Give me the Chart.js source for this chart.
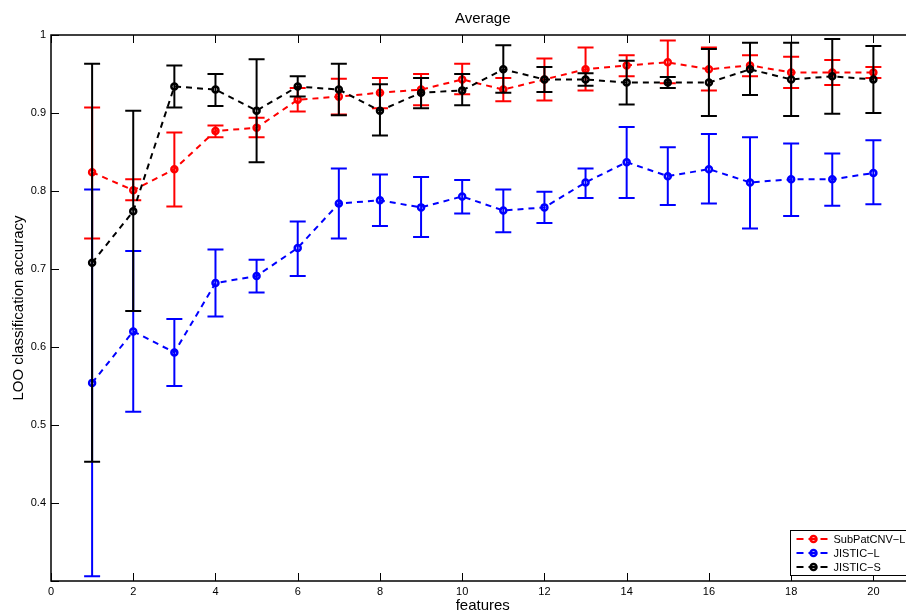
<!DOCTYPE html>
<html>
<head>
<meta charset="utf-8">
<script src="https://cdn.jsdelivr.net/npm/chart.js@4.4.1/dist/chart.umd.min.js"></script>
<style>
  html, body { margin: 0; padding: 0; background: #fff; overflow: hidden; }
  #wrap { width: 920px; height: 613px; }
</style>
</head>
<body>
<div id="wrap"><canvas id="chart"></canvas></div>
<script>
// number of features on the x axis
const features = [1, 2, 3, 4, 5, 6, 7, 8, 9, 10, 11, 12, 13, 14, 15, 16, 17, 18, 19, 20];

// SubPatCNV-L (red)
const subpatMean = [0.824, 0.801, 0.828, 0.877, 0.881, 0.917, 0.921, 0.926, 0.930, 0.943, 0.930, 0.943, 0.956, 0.961, 0.965, 0.956, 0.961, 0.952, 0.952, 0.952];
const subpatLow  = [0.739, 0.788, 0.780, 0.869, 0.869, 0.902, 0.898, 0.906, 0.910, 0.924, 0.915, 0.916, 0.929, 0.947, 0.938, 0.929, 0.947, 0.932, 0.936, 0.945];
const subpatHigh = [0.907, 0.815, 0.875, 0.884, 0.894, 0.932, 0.944, 0.945, 0.950, 0.963, 0.945, 0.970, 0.984, 0.974, 0.993, 0.984, 0.974, 0.972, 0.968, 0.959];

// JISTIC-L (blue)
const jisticLMean = [0.554, 0.620, 0.593, 0.682, 0.691, 0.727, 0.784, 0.788, 0.779, 0.793, 0.775, 0.779, 0.811, 0.837, 0.819, 0.828, 0.811, 0.815, 0.815, 0.823];
const jisticLLow  = [0.306, 0.517, 0.550, 0.639, 0.670, 0.691, 0.739, 0.755, 0.741, 0.771, 0.747, 0.759, 0.791, 0.791, 0.782, 0.784, 0.752, 0.768, 0.781, 0.783];
const jisticLHigh = [0.802, 0.723, 0.636, 0.725, 0.712, 0.761, 0.829, 0.821, 0.818, 0.814, 0.802, 0.799, 0.829, 0.882, 0.856, 0.873, 0.869, 0.861, 0.848, 0.865];

// JISTIC-S (black)
const jisticSMean = [0.708, 0.774, 0.934, 0.930, 0.903, 0.934, 0.930, 0.903, 0.926, 0.929, 0.956, 0.943, 0.943, 0.939, 0.939, 0.939, 0.956, 0.943, 0.947, 0.943];
const jisticSLow  = [0.453, 0.646, 0.907, 0.909, 0.837, 0.921, 0.897, 0.871, 0.906, 0.910, 0.926, 0.927, 0.935, 0.911, 0.932, 0.896, 0.923, 0.896, 0.899, 0.900];
const jisticSHigh = [0.963, 0.903, 0.961, 0.950, 0.969, 0.947, 0.963, 0.937, 0.945, 0.950, 0.987, 0.959, 0.951, 0.967, 0.946, 0.982, 0.990, 0.990, 0.995, 0.986];

const seriesNames = ["SubPatCNV\u2212L", "JISTIC\u2212L", "JISTIC\u2212S"];
const seriesColors = ["#ff0000", "#0000ff", "#000000"];

const FONT = "'Liberation Sans', Arial, Helvetica, sans-serif";

function makeDataset(i, mean, low, high) {
    return {
        label: seriesNames[i],
        data: features.map((f, k) => ({ x: f, y: mean[k] })),
        errLow: low,
        errHigh: high,
        borderColor: seriesColors[i],
        backgroundColor: "transparent",
        borderWidth: 2,
        borderDash: [6, 5],
        pointRadius: 3,
        pointBorderWidth: 2.5,
        pointBorderColor: seriesColors[i],
        pointBackgroundColor: "transparent",
        pointHoverRadius: 3,
        tension: 0,
        order: 3 - i, // black last = on top, like matlab
    };
}

// error bars, drawn right after each dataset
const errorBars = {
    id: "errorBars",
    afterDatasetDraw(chart, args) {
        const ds = chart.data.datasets[args.index];
        const ctx = chart.ctx;
        const xs = chart.scales.x, ys = chart.scales.y;
        const area = chart.chartArea;
        ctx.save();
        ctx.beginPath();
        ctx.rect(area.left, area.top, area.right - area.left, area.bottom - area.top);
        ctx.clip();
        ctx.strokeStyle = ds.borderColor;
        ctx.lineWidth = 2;
        ctx.setLineDash([]);
        features.forEach((f, k) => {
            const px = xs.getPixelForValue(f);
            const lo = ys.getPixelForValue(ds.errLow[k]);
            const hi = ys.getPixelForValue(ds.errHigh[k]);
            ctx.beginPath();
            ctx.moveTo(px, lo); ctx.lineTo(px, hi);
            ctx.moveTo(px - 8, lo); ctx.lineTo(px + 8, lo);
            ctx.moveTo(px - 8, hi); ctx.lineTo(px + 8, hi);
            ctx.stroke();
        });
        ctx.restore();
    }
};

// axes box with inward ticks + legend box
const matlabAxes = {
    id: "matlabAxes",
    afterDraw(chart) {
        const ctx = chart.ctx;
        const a = chart.chartArea;
        const xs = chart.scales.x, ys = chart.scales.y;
        ctx.save();
        ctx.strokeStyle = "#000";
        ctx.lineWidth = 1.5;
        ctx.setLineDash([]);
        ctx.strokeRect(a.left, a.top, a.right - a.left, a.bottom - a.top);
        ctx.lineWidth = 1;
        ctx.beginPath();
        xs.ticks.forEach(t => {
            const px = Math.round(xs.getPixelForValue(t.value)) + 0.5;
            ctx.moveTo(px, a.bottom); ctx.lineTo(px, a.bottom - 8);
            ctx.moveTo(px, a.top); ctx.lineTo(px, a.top + 8);
        });
        ys.ticks.forEach(t => {
            const py = Math.round(ys.getPixelForValue(t.value)) + 0.5;
            ctx.moveTo(a.left, py); ctx.lineTo(a.left + 8, py);
            ctx.moveTo(a.right, py); ctx.lineTo(a.right - 8, py);
        });
        ctx.stroke();

        // legend (south east)
        const lx = a.right - 125, ly = a.bottom - 51;
        const lw = 121, lh = 45;
        ctx.fillStyle = "#fff";
        ctx.fillRect(lx, ly, lw, lh);
        ctx.lineWidth = 1;
        ctx.strokeRect(Math.round(lx) + 0.5, Math.round(ly) + 0.5, lw, lh);
        ctx.font = "11px " + FONT;
        ctx.textBaseline = "middle";
        ctx.textAlign = "left";
        seriesNames.forEach((name, i) => {
            const ry = ly + 9 + i * 14;
            ctx.strokeStyle = seriesColors[i];
            ctx.lineWidth = 2;
            ctx.setLineDash([7, 5]);
            ctx.beginPath();
            ctx.moveTo(lx + 7, ry); ctx.lineTo(lx + 42, ry);
            ctx.stroke();
            ctx.setLineDash([]);
            ctx.lineWidth = 2.5;
            ctx.beginPath();
            ctx.arc(lx + 24, ry, 3, 0, Math.PI * 2);
            ctx.stroke();
            ctx.fillStyle = "#000";
            ctx.fillText(name, lx + 44, ry + 1);
        });
        ctx.restore();
    }
};

const ctx = document.getElementById("chart").getContext("2d");
const chart = new Chart(ctx, {
    type: "line",
    data: {
        datasets: [
            makeDataset(0, subpatMean, subpatLow, subpatHigh),
            makeDataset(1, jisticLMean, jisticLLow, jisticLHigh),
            makeDataset(2, jisticSMean, jisticSLow, jisticSHigh),
        ],
    },
    options: {
        responsive: true,
        maintainAspectRatio: false,
        devicePixelRatio: 1,
        animation: false,
        events: [],
        layout: { padding: { left: 0, right: 4, top: 0, bottom: 0 } },
        plugins: {
            legend: { display: false },
            tooltip: { enabled: false },
            title: {
                display: true,
                fullSize: false,
                text: "Average",
                color: "#000",
                font: { family: FONT, size: 15, weight: "normal" },
                padding: { top: 10, bottom: 7 },
            },
        },
        scales: {
            x: {
                type: "linear",
                min: 0,
                max: 21,
                grid: { display: false, drawTicks: false },
                border: { display: false },
                ticks: {
                    stepSize: 2,
                    includeBounds: false,
                    color: "#000",
                    padding: 4,
                    maxRotation: 0,
                    font: { family: FONT, size: 11 },
                },
                title: {
                    display: true,
                    text: "features",
                    color: "#000",
                    font: { family: FONT, size: 15 },
                    padding: { top: 0, bottom: -2 },
                },
                afterFit(scale) { scale.height = 32; },
            },
            y: {
                type: "linear",
                min: 0.3,
                max: 1,
                grid: { display: false, drawTicks: false },
                border: { display: false },
                ticks: {
                    stepSize: 0.1,
                    color: "#000",
                    padding: 5,
                    font: { family: FONT, size: 11 },
                    callback: v => (v < 0.35 ? "" : String(+v.toFixed(1))),
                },
                title: {
                    display: true,
                    text: "LOO classification accuracy",
                    color: "#000",
                    font: { family: FONT, size: 15 },
                    padding: { top: 10, bottom: 0 },
                },
                afterFit(scale) { scale.width = 51; },
            },
        },
    },
    plugins: [errorBars, matlabAxes],
});
</script>
</body>
</html>
